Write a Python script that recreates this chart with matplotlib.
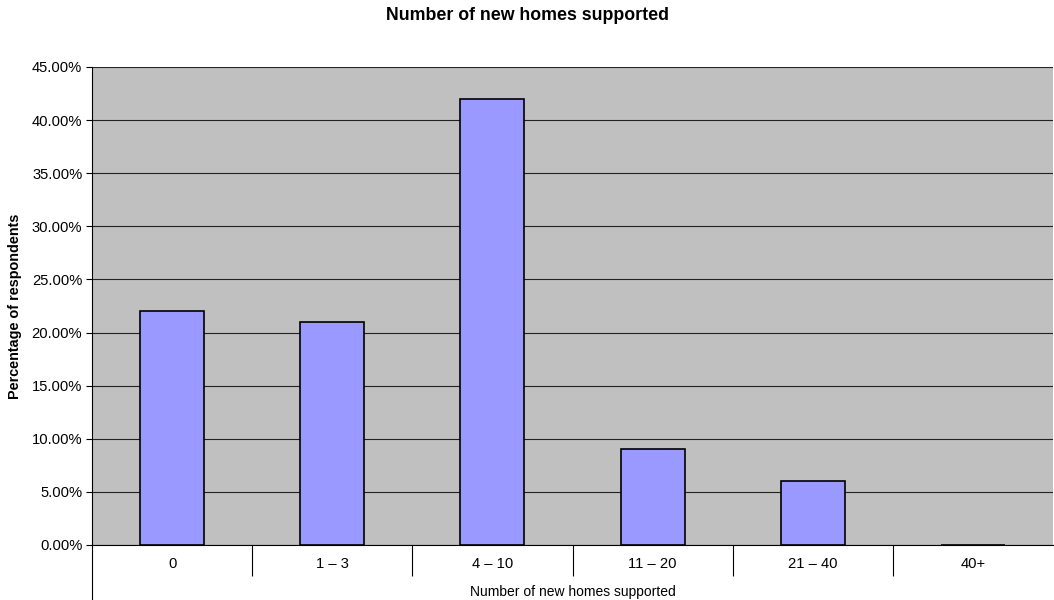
import matplotlib.pyplot as plt
from matplotlib.lines import Line2D
from matplotlib.ticker import PercentFormatter

plt.rcParams['font.family'] = ['Liberation Sans', 'DejaVu Sans']

categories = ["0", "1 – 3", "4 – 10", "11 – 20", "21 – 40", "40+"]
percent_respondents = [22, 21, 42, 9, 6, 0]

fig = plt.figure(figsize=(10.54, 6), dpi=100)
ax = fig.add_axes([92/1054, 55/600, 961/1054, 478/600])

x = range(len(categories))
ax.bar(x, percent_respondents, width=0.4, color='#9999FF', edgecolor='black', linewidth=1.2, zorder=3)

ax.set_facecolor('#C0C0C0')
ax.set_xlim(-0.5, len(categories) - 0.5)
ax.set_ylim(0, 45)
ax.set_yticks(range(0, 46, 5))
ax.yaxis.set_major_formatter(PercentFormatter(decimals=2))
ax.grid(axis='y', color='#222222', linewidth=0.8, zorder=1)

ax.set_xticks(list(x))
ax.set_xticklabels(categories)
ax.set_xticks([i + 0.5 for i in range(len(categories) - 1)], minor=True)
ax.tick_params(axis='x', which='major', length=0, pad=8.5, labelsize=10.6)
ax.tick_params(axis='x', which='minor', length=22, width=0.8, direction='out')
ax.tick_params(axis='y', length=4, width=0.8, labelsize=10.6, pad=3)

for side in ['top', 'right']:
    ax.spines[side].set_visible(False)
ax.spines['left'].set_linewidth(0.8)
ax.spines['bottom'].set_linewidth(0.8)

# left axis runs on below the plot area, as in the original
fig.add_artist(Line2D([92/1054, 92/1054], [0, 55/600], color='black', linewidth=0.8))

ax.set_xlabel('Number of new homes supported', fontsize=10, labelpad=3.5)
ax.set_ylabel('Percentage of respondents', fontsize=10.4, fontweight='bold', labelpad=7)
fig.text(0.5, 1 - 16/600, 'Number of new homes supported', ha='center', va='center',
         fontsize=12.8, fontweight='bold')

fig.savefig('out.png', dpi=100)
